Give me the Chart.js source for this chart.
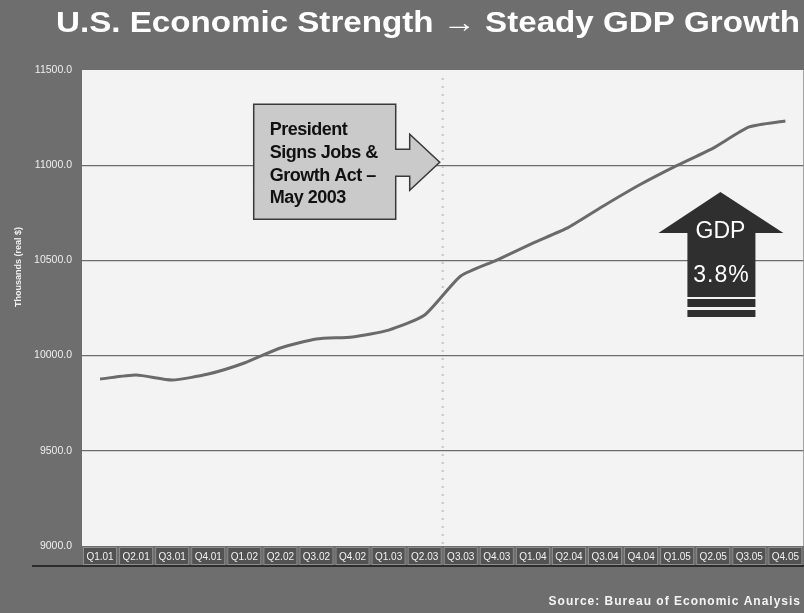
<!DOCTYPE html>
<html>
<head>
<meta charset="utf-8">
<script src="https://cdn.jsdelivr.net/npm/chart.js@4.4.1/dist/chart.umd.min.js"></script>
<style>
    html, body { margin: 0; padding: 0; background: #6e6e6e; }
    #wrap { width: 804px; height: 613px; }
</style>
</head>
<body>
<div id="wrap"><canvas id="gdpChart" width="804" height="613"></canvas></div>
<script>
'use strict';

// Chart data
const quarters = ['Q1.01', 'Q2.01', 'Q3.01', 'Q4.01', 'Q1.02', 'Q2.02', 'Q3.02', 'Q4.02', 'Q1.03', 'Q2.03',
    'Q3.03', 'Q4.03', 'Q1.04', 'Q2.04', 'Q3.04', 'Q4.04', 'Q1.05', 'Q2.05', 'Q3.05', 'Q4.05'];
const gdpValues = [9877, 9898, 9872, 9903, 9961, 10040, 10087, 10098, 10134, 10213,
    10418, 10502, 10591, 10675, 10791, 10901, 10999, 11090, 11201, 11232];
const yMin = 9000;
const yMax = 11500;
const yStep = 500;
const signingQuarter = 'Q2.03';   // dotted line after this quarter
const calloutLines = ['President', 'Signs Jobs &', 'Growth Act \u2013', 'May 2003'];
const badgeLines = ['GDP', '3.8%'];
const titleText = 'U.S. Economic Strength \u2192 Steady GDP Growth';
const sourceText = 'Source: Bureau of Economic Analysis';
const yAxisTitle = 'Thousands (real $)';

const FONT = '"Liberation Sans", Arial, sans-serif';

// Backdrop, label boxes, annotations
const decorations = {
    id: 'decorations',

    beforeDraw(chart) {
        const { ctx, chartArea: a, scales: { x } } = chart;
        ctx.save();
        ctx.fillStyle = '#6e6e6e';
        ctx.fillRect(0, 0, chart.width, chart.height);
        ctx.fillStyle = '#f3f3f3';
        ctx.fillRect(a.left, a.top, a.right - a.left, a.bottom - a.top);

        // x label boxes
        const band = x.width / quarters.length;
        quarters.forEach((q, i) => {
            const cx = x.getPixelForTick(i);
            ctx.fillStyle = '#525252';
            ctx.fillRect(cx - band / 2 + 1, a.bottom + 1, band - 2, 18);
            ctx.strokeStyle = '#8e8e8e';
            ctx.lineWidth = 1;
            ctx.strokeRect(cx - band / 2 + 1.5, a.bottom + 1.5, band - 3, 17);
        });

        // shadow line under the labels
        ctx.fillStyle = '#2c2c2c';
        ctx.fillRect(32, a.bottom + 19, chart.width - 32, 2);
        ctx.restore();
    },

    beforeDatasetsDraw(chart) {
        const { ctx, chartArea: a, scales: { x } } = chart;
        const lx = x.getPixelForValue(quarters.indexOf(signingQuarter) + 0.5);
        ctx.save();
        ctx.strokeStyle = '#c4c4c4';
        ctx.lineWidth = 2;
        ctx.setLineDash([2, 6]);
        ctx.beginPath();
        ctx.moveTo(lx, a.top + 8);
        ctx.lineTo(lx, a.bottom);
        ctx.stroke();
        ctx.restore();
    },

    afterDraw(chart) {
        const { ctx, chartArea: a, scales: { x, y } } = chart;
        ctx.save();

        // Title
        ctx.fillStyle = '#ffffff';
        ctx.font = 'bold 29px ' + FONT;
        ctx.textBaseline = 'alphabetic';
        const tw = ctx.measureText(titleText).width;
        ctx.save();
        ctx.translate(56, 32);
        ctx.scale(744 / tw, 1);
        ctx.fillText(titleText, 0, 0);
        ctx.restore();

        // Y axis title
        ctx.save();
        ctx.translate(21, 267);
        ctx.rotate(-Math.PI / 2);
        ctx.font = 'bold 9px ' + FONT;
        ctx.textAlign = 'center';
        ctx.fillStyle = '#f0f0f0';
        ctx.fillText(yAxisTitle, 0, 0);
        ctx.restore();

        // Source
        ctx.font = 'bold 12px ' + FONT;
        ctx.letterSpacing = '1px';
        ctx.textAlign = 'right';
        ctx.fillStyle = '#f4f4f4';
        ctx.fillText(sourceText, 801, 605);
        ctx.letterSpacing = '0px';

        // Callout arrow pointing at the signing line
        const tipX = x.getPixelForValue(quarters.indexOf(signingQuarter) + 0.5) - 3;
        const tipY = y.getPixelForValue(11000) - 3;
        const bx = tipX - 186, by = tipY - 58;
        ctx.beginPath();
        ctx.moveTo(bx, by);
        ctx.lineTo(bx + 142, by);
        ctx.lineTo(bx + 142, tipY - 13);
        ctx.lineTo(tipX - 30, tipY - 13);
        ctx.lineTo(tipX - 30, tipY - 28);
        ctx.lineTo(tipX, tipY);
        ctx.lineTo(tipX - 30, tipY + 28);
        ctx.lineTo(tipX - 30, tipY + 14);
        ctx.lineTo(bx + 142, tipY + 14);
        ctx.lineTo(bx + 142, by + 115);
        ctx.lineTo(bx, by + 115);
        ctx.closePath();
        ctx.fillStyle = '#cacaca';
        ctx.fill();
        ctx.strokeStyle = '#3a3a3a';
        ctx.lineWidth = 1.5;
        ctx.stroke();

        ctx.fillStyle = '#111111';
        ctx.font = 'bold 18px ' + FONT;
        ctx.letterSpacing = '-0.5px';
        ctx.textAlign = 'left';
        calloutLines.forEach((line, i) => {
            ctx.fillText(line, bx + 16, by + 31 + i * 22.7);
        });
        ctx.letterSpacing = '0px';

        // GDP up arrow badge
        const cx = a.right - 83;
        const top = 192;
        ctx.beginPath();
        ctx.moveTo(cx, top);
        ctx.lineTo(cx + 63, top + 41);
        ctx.lineTo(cx + 35, top + 41);
        ctx.lineTo(cx + 35, top + 105);
        ctx.lineTo(cx - 33, top + 105);
        ctx.lineTo(cx - 33, top + 41);
        ctx.lineTo(cx - 62, top + 41);
        ctx.closePath();
        ctx.fillStyle = '#2f2f2f';
        ctx.fill();
        ctx.fillRect(cx - 33, top + 107, 68, 8);
        ctx.fillRect(cx - 33, top + 118, 68, 7);

        ctx.fillStyle = '#ffffff';
        ctx.textAlign = 'center';
        ctx.font = '23px ' + FONT;
        ctx.fillText(badgeLines[0], cx, top + 46);
        ctx.letterSpacing = '1px';
        ctx.fillText(badgeLines[1], cx + 1, top + 90);
        ctx.letterSpacing = '0px';

        ctx.restore();
    }
};

const ctx = document.getElementById('gdpChart');
new Chart(ctx.getContext('2d'), {
    type: 'line',
    data: {
        labels: quarters,
        datasets: [{
            label: 'GDP',
            data: gdpValues,
            borderColor: '#6a6a6a',
            borderWidth: 3,
            pointRadius: 0,
            tension: 0.2,
            fill: false
        }]
    },
    options: {
        responsive: false,
        animation: false,
        devicePixelRatio: 1,
        layout: {
            padding: { left: 0, right: 0, top: 70, bottom: 47 }
        },
        scales: {
            x: {
                type: 'category',
                offset: true,
                afterFit(scale) { scale.height = 20; },
                grid: { display: false, drawTicks: false },
                border: { display: false },
                ticks: {
                    color: '#f2f2f2',
                    font: { family: FONT, size: 10 },
                    padding: 5,
                    maxRotation: 0,
                    autoSkip: false
                }
            },
            y: {
                min: yMin,
                max: yMax,
                afterFit(scale) { scale.width = 82; },
                afterBuildTicks(scale) {
                    const ticks = [];
                    for (let v = yMin; v <= yMax; v += yStep) ticks.push({ value: v });
                    scale.ticks = ticks;
                },
                border: { display: false },
                grid: {
                    color: (c) => (c.tick && (c.tick.value === yMin || c.tick.value === yMax)) ? 'rgba(0,0,0,0)' : '#6c6c6c',
                    lineWidth: 1.2,
                    tickLength: 6
                },
                ticks: {
                    color: '#eeeeee',
                    font: { family: FONT, size: 10.5 },
                    padding: 4,
                    callback: (v) => Number(v).toFixed(1)
                }
            }
        },
        plugins: {
            legend: { display: false },
            tooltip: { enabled: false },
            title: { display: false }
        }
    },
    plugins: [decorations]
});
</script>
</body>
</html>
